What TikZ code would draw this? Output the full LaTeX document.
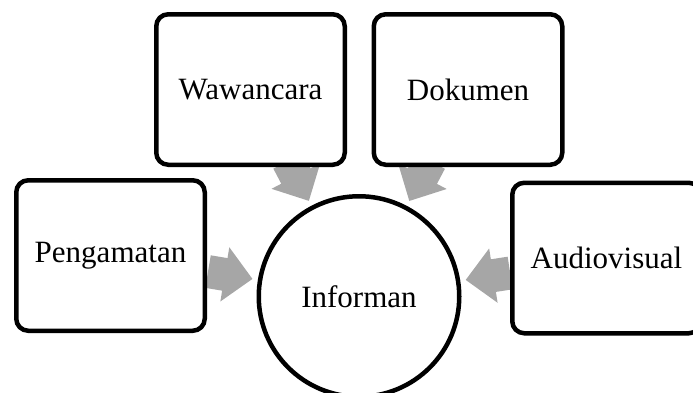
\documentclass[tikz,border=0pt]{standalone}
\usepackage{fontspec}
\setmainfont{Liberation Serif}
\usetikzlibrary{calc,backgrounds}
\definecolor{arrowgray}{HTML}{A6A6A6}
\begin{document}
\begin{tikzpicture}[x=1pt,y=-1pt,
  label font/.style={font=\fontsize{31}{36}\selectfont},
  source/.style={draw=black, fill=white, line width=4.5pt, rounded corners=12pt,
    minimum width=188.5pt, minimum height=150.5pt, inner sep=0pt, label font},
  hub/.style={circle, draw=black, fill=white, line width=4.5pt,
    minimum size=200.5pt, inner sep=0pt, label font},
  flow/.style={fill=arrowgray}]
  \useasboundingbox (0,0) rectangle (693,392);
  \clip (0,0) rectangle (693,392);

  % central circle and the four sources around it
  \node[hub] (inf) at (359,296.5) {Informan};
  \node[source] (pen) at (110.5,255.5) {Pengamatan};
  \node[source] (waw) at (250.5,89.5) {Wawancara};
  \node[source] (dok) at (468,89.5) {Dokumen};
  \node[source] (aud) at (606.5,258) {Audiovisual};

  % block arrows, aimed at the centre of the circle, under the shapes
  \begin{pgfonlayer}{background}
    \foreach \src in {pen,waw,dok,aud}{
      \coordinate (tail) at ($(inf.center)!153pt!(\src.center)$);
      \coordinate (base) at ($(inf.center)!136pt!(\src.center)$);
      \coordinate (tip)  at ($(inf.center)!108pt!(\src.center)$);
      \fill[flow] ($(tail)!16.5pt!90:(tip)$) -- ($(base)!16.5pt!90:(tip)$)
        -- ($(base)!27.5pt!90:(tip)$) -- (tip) -- ($(base)!27.5pt!-90:(tip)$)
        -- ($(base)!16.5pt!-90:(tip)$) -- ($(tail)!16.5pt!-90:(tip)$) -- cycle;
    }
  \end{pgfonlayer}
\end{tikzpicture}
\end{document}
